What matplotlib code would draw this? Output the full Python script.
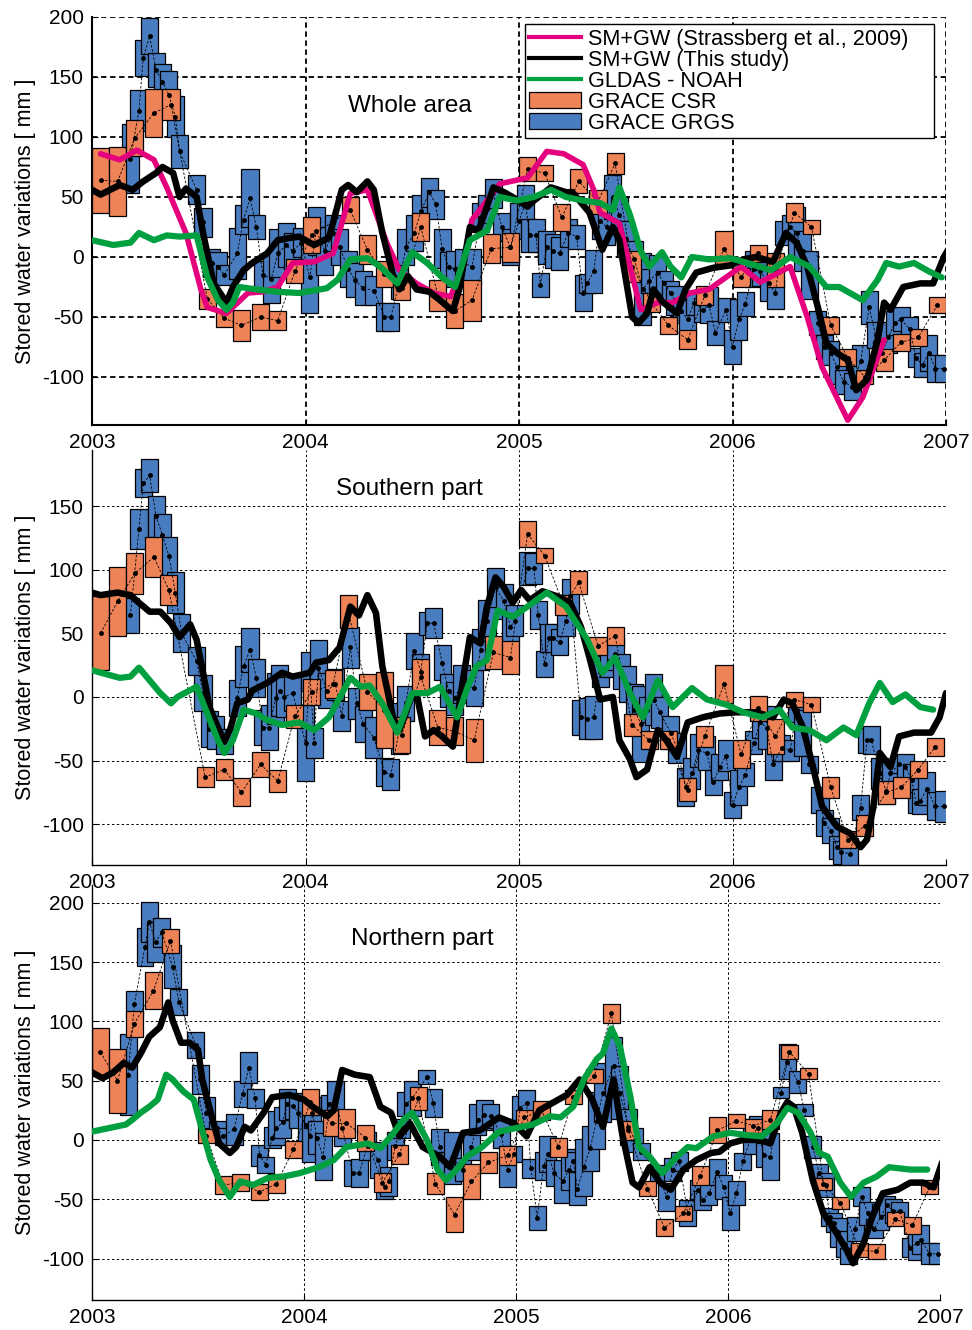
import numpy as np
import matplotlib
matplotlib.use("Agg")
import matplotlib.pyplot as plt
from matplotlib.lines import Line2D
from matplotlib.patches import Patch

plt.rcParams['font.family'] = ['Liberation Sans', 'DejaVu Sans']
plt.rcParams['axes.unicode_minus'] = False

PINK = '#E5007D'
GREEN = '#00A040'
ORANGE = '#EE8358'
BLUE = '#4A7CC0'

# ---------------- Whole area ----------------
top_black_t = [2003.00, 2003.04, 2003.13, 2003.19, 2003.24, 2003.30, 2003.33, 2003.38, 2003.41, 2003.44,
               2003.49, 2003.52, 2003.57, 2003.63, 2003.66, 2003.71, 2003.75, 2003.82, 2003.87, 2003.93,
               2003.97, 2004.04, 2004.11, 2004.17, 2004.20, 2004.24, 2004.29, 2004.32, 2004.36, 2004.41,
               2004.44, 2004.48, 2004.52, 2004.58, 2004.63, 2004.69, 2004.72, 2004.77, 2004.81, 2004.85,
               2004.88, 2004.93, 2004.97, 2005.04, 2005.07, 2005.15, 2005.22, 2005.25, 2005.33, 2005.39,
               2005.44, 2005.47, 2005.53, 2005.56, 2005.60, 2005.63, 2005.67, 2005.74, 2005.78, 2005.83,
               2005.91, 2005.99, 2006.05, 2006.11, 2006.19, 2006.25, 2006.30, 2006.35, 2006.40, 2006.44,
               2006.49, 2006.54, 2006.58, 2006.63, 2006.68, 2006.71, 2006.74, 2006.80, 2006.88, 2006.94,
               2006.99, 2007.01]
top_black_v = [56, 52, 60, 56, 63, 70, 75, 70, 50, 57,
               50, 20, -22, -38, -25, -11, -5, 3, 14, 16,
               17, 10, 16, 56, 60, 54, 63, 56, 20, -15,
               -27, -16, -27, -29, -36, -45, -27, 25, 22, 42,
               58, 54, 50, 42, 47, 58, 54, 54, 37, 6,
               25, 14, -50, -55, -47, -27, -37, -47, -27, -13,
               -9, -7, -2, 0, -4, 20, 12, -8, -42, -72,
               -80, -86, -111, -102, -69, -38, -44, -25, -22, -22,
               0, 6]

top_pink_t = [2003.04, 2003.13, 2003.21, 2003.29, 2003.35, 2003.44, 2003.51, 2003.54, 2003.63, 2003.73,
              2003.80, 2003.87, 2003.94, 2004.04, 2004.13, 2004.21, 2004.29, 2004.38, 2004.44, 2004.52,
              2004.60, 2004.68, 2004.74, 2004.78, 2004.91, 2005.04, 2005.13, 2005.21, 2005.30, 2005.35,
              2005.38, 2005.47, 2005.53, 2005.57, 2005.65, 2005.72, 2005.80, 2005.89, 2006.04, 2006.13,
              2006.27, 2006.35, 2006.42, 2006.54, 2006.61, 2006.71]
top_pink_v = [86, 81, 89, 81, 58, 20, -27, -42, -47, -30,
              -29, -25, -5, -4, 3, 53, 56, 12, -11, -22,
              -30, -33, -5, 31, 61, 66, 88, 86, 77, 56,
              37, 28, -15, -44, -38, -38, -30, -27, -8, -21,
              -8, -50, -92, -136, -117, -69]

top_green_t = [2003.00, 2003.10, 2003.18, 2003.22, 2003.29, 2003.35, 2003.41, 2003.49, 2003.54, 2003.59,
               2003.63, 2003.66, 2003.69, 2003.77, 2003.87, 2003.97, 2004.10, 2004.15, 2004.21, 2004.29,
               2004.35, 2004.43, 2004.50, 2004.57, 2004.64, 2004.70, 2004.77, 2004.85, 2004.91, 2004.99,
               2005.07, 2005.15, 2005.22, 2005.30, 2005.38, 2005.44, 2005.47, 2005.52, 2005.57, 2005.61,
               2005.67, 2005.71, 2005.76, 2005.81, 2005.89, 2005.99, 2006.07, 2006.18, 2006.27, 2006.36,
               2006.44, 2006.50, 2006.55, 2006.61, 2006.68, 2006.72, 2006.78, 2006.85, 2006.92, 2006.98]
top_green_v = [14, 10, 12, 20, 14, 18, 17, 18, -17, -36,
               -44, -38, -25, -27, -29, -30, -26, -19, -2, -1,
               -8, -22, 4, -5, -17, -25, 14, 22, 50, 47,
               50, 56, 50, 47, 45, 39, 58, 35, 5, -8,
               4, -8, -17, 0, -2, -1, -5, -11, 0, -8,
               -25, -25, -30, -36, -19, -5, -8, -5, -12, -17]

top_csr_t = [2003.04, 2003.12, 2003.20, 2003.29, 2003.37, 2003.54, 2003.62, 2003.70, 2003.79, 2003.87,
             2003.95, 2004.03, 2004.21, 2004.29, 2004.37, 2004.45, 2004.54, 2004.62, 2004.70, 2004.78,
             2004.87, 2004.96, 2005.04, 2005.12, 2005.20, 2005.28, 2005.37, 2005.45, 2005.53, 2005.62,
             2005.70, 2005.79, 2005.87, 2005.96, 2006.04, 2006.12, 2006.20, 2006.29, 2006.37, 2006.46,
             2006.54, 2006.62, 2006.71, 2006.79, 2006.87, 2006.96]
top_csr_v = [64, 63, 99, 120, 127, -35, -51, -57, -50, -53,
             -12, 18, 39, 6, -14, -26, 25, -32, -45, -36,
             7, 8, 73, 70, 33, 63, 46, 78, -8, -38,
             -57, -69, -32, 7, -17, 3, -11, 37, 25, -57,
             -84, -100, -86, -71, -67, -40]
top_csr_e = [27, 29, 15, 20, 13, 8, 7, 13, 11, 8,
             10, 15, 11, 12, 11, 10, 12, 13, 14, 17,
             12, 12, 10, 7, 11, 10, 10, 9, 13, 8,
             7, 8, 8, 15, 8, 7, 14, 8, 6, 7,
             7, 6, 9, 7, 7, 7]

top_grgs_t = [2003.18, 2003.22, 2003.24, 2003.27, 2003.30, 2003.33, 2003.36, 2003.39, 2003.41, 2003.49,
              2003.52, 2003.56, 2003.59, 2003.62, 2003.68, 2003.71, 2003.74, 2003.77, 2003.80, 2003.84,
              2003.87, 2003.91, 2003.94, 2003.98, 2004.02, 2004.05, 2004.09, 2004.13, 2004.16, 2004.20,
              2004.23, 2004.27, 2004.32, 2004.37, 2004.40, 2004.44, 2004.47, 2004.51, 2004.54, 2004.58,
              2004.61, 2004.64, 2004.67, 2004.70, 2004.74, 2004.78, 2004.82, 2004.85, 2004.88, 2004.92,
              2004.96, 2005.00, 2005.03, 2005.05, 2005.08, 2005.10, 2005.13, 2005.16, 2005.19, 2005.23,
              2005.27, 2005.30, 2005.32, 2005.35, 2005.38, 2005.41, 2005.44, 2005.47, 2005.50, 2005.54,
              2005.58, 2005.61, 2005.65, 2005.68, 2005.71, 2005.73, 2005.76, 2005.79, 2005.82, 2005.86,
              2005.89, 2005.92, 2005.97, 2006.00, 2006.03, 2006.06, 2006.10, 2006.13, 2006.17, 2006.20,
              2006.24, 2006.27, 2006.30, 2006.33, 2006.36, 2006.40, 2006.43, 2006.46, 2006.49, 2006.52,
              2006.56, 2006.60, 2006.64, 2006.67, 2006.70, 2006.73, 2006.76, 2006.79, 2006.83, 2006.86,
              2006.89, 2006.92, 2006.95, 2006.99]
top_grgs_v = [82, 122, 166, 184, 156, 146, 135, 117, 88, 56,
              29, -5, -8, -15, 3, 31, 49, 25, -15, -18,
              3, 10, 5, 12, -17, 22, 5, 20, 8, -10,
              -19, -26, -28, -50, -50, -20, 8, 20, 38, 54,
              44, 7, -8, -10, -5, -8, 33, 40, 53, 25,
              8, 30, 45, 18, 18, -23, 8, 5, 3, 20,
              17, -30, -22, -12, 30, 25, 50, 35, 15, -2,
              -27, -20, -13, -22, -30, -36, -45, -52, -38, -44,
              -40, -63, -44, -75, -52, -39, -10, -12, -22, -30,
              20, 25, 20, 5, -15, -55, -75, -80, -92, -104,
              -108, -87, -42, -65, -80, -67, -55, -52, -60, -84,
              -90, -80, -93, -93]
top_grgs_e = [29, 17, 15, 15, 14, 15, 20, 17, 14, 12,
              12, 12, 12, 8, 21, 12, 24, 10, 12, 20,
              20, 18, 15, 12, 30, 20, 20, 15, 15, 15,
              14, 14, 12, 12, 12, 15, 15, 15, 14, 12,
              12, 16, 12, 15, 12, 15, 12, 12, 12, 12,
              15, 15, 15, 14, 14, 10, 14, 14, 14, 12,
              10, 15, 8, 18, 15, 15, 18, 15, 15, 15,
              30, 10, 15, 10, 10, 12, 10, 16, 10, 10,
              15, 10, 10, 14, 17, 10, 15, 12, 15, 13,
              10, 10, 22, 17, 20, 10, 10, 10, 14, 10,
              11, 14, 14, 11, 10, 13, 10, 10, 10, 8,
              10, 15, 11, 11]

# ---------------- Southern part ----------------
mid_black_t = [2003.00, 2003.04, 2003.12, 2003.18, 2003.22, 2003.27, 2003.32, 2003.37, 2003.41, 2003.46,
               2003.49, 2003.52, 2003.55, 2003.59, 2003.62, 2003.65, 2003.68, 2003.73, 2003.75, 2003.82,
               2003.89, 2003.94, 2004.02, 2004.05, 2004.11, 2004.16, 2004.21, 2004.25, 2004.29, 2004.33,
               2004.36, 2004.41, 2004.44, 2004.49, 2004.52, 2004.56, 2004.60, 2004.64, 2004.69, 2004.74,
               2004.77, 2004.82, 2004.85, 2004.89, 2004.93, 2004.97, 2005.01, 2005.05, 2005.11, 2005.18,
               2005.24, 2005.29, 2005.33, 2005.38, 2005.44, 2005.47, 2005.52, 2005.55, 2005.60, 2005.65,
               2005.69, 2005.74, 2005.79, 2005.86, 2005.94, 2006.02, 2006.11, 2006.19, 2006.24, 2006.28,
               2006.33, 2006.38, 2006.42, 2006.49, 2006.55, 2006.60, 2006.63, 2006.66, 2006.69, 2006.74,
               2006.78, 2006.85, 2006.93, 2006.97, 2007.00]
mid_black_v = [82, 80, 82, 80, 74, 67, 67, 58, 47, 57,
               45, 19, -8, -24, -35, -24, -5, -2, 5, 11,
               19, 16, 19, 27, 29, 39, 71, 64, 80, 66,
               24, -16, -26, -2, 3, -31, -26, -31, -39, 16,
               47, 42, 71, 94, 86, 74, 84, 76, 83, 79,
               74, 55, 31, -2, 0, -34, -49, -63, -57, -26,
               -34, -47, -20, -16, -13, -12, -12, -16, -2, -5,
               -24, -57, -86, -102, -107, -118, -112, -86, -44, -55,
               -31, -28, -28, -16, 3]

mid_green_t = [2003.00, 2003.13, 2003.18, 2003.22, 2003.27, 2003.32, 2003.37, 2003.40, 2003.49, 2003.54,
               2003.59, 2003.62, 2003.66, 2003.71, 2003.77, 2003.82, 2003.89, 2003.97, 2004.04, 2004.11,
               2004.21, 2004.26, 2004.30, 2004.36, 2004.43, 2004.50, 2004.57, 2004.63, 2004.71, 2004.76,
               2004.80, 2004.85, 2004.90, 2004.97, 2005.04, 2005.13, 2005.22, 2005.32, 2005.39, 2005.45,
               2005.52, 2005.58, 2005.65, 2005.72, 2005.81, 2005.88, 2005.97, 2006.05, 2006.14, 2006.22,
               2006.28, 2006.36, 2006.44, 2006.52, 2006.58, 2006.64, 2006.69, 2006.75, 2006.81, 2006.88,
               2006.94]
mid_green_v = [21, 15, 16, 23, 13, 3, -5, 0, 8, -13,
               -34, -44, -34, -10, -13, -18, -22, -20, -26, -16,
               15, 8, 9, -5, -28, 3, 3, 8, -16, 8,
               24, 29, 68, 63, 71, 82, 71, 45, 19, 31,
               3, -16, 13, -8, 7, -2, -6, -12, -16, -10,
               -24, -26, -34, -24, -30, -5, 11, -4, 2, -8,
               -10]

mid_csr_t = [2003.04, 2003.12, 2003.20, 2003.29, 2003.36, 2003.53, 2003.62, 2003.70, 2003.79, 2003.87,
             2003.95, 2004.03, 2004.13, 2004.20, 2004.29, 2004.37, 2004.45, 2004.54, 2004.62, 2004.70,
             2004.79, 2004.88, 2004.96, 2005.04, 2005.12, 2005.21, 2005.28, 2005.37, 2005.45, 2005.53,
             2005.61, 2005.70, 2005.79, 2005.87, 2005.96, 2006.04, 2006.12, 2006.20, 2006.29, 2006.37,
             2006.46, 2006.54, 2006.62, 2006.72, 2006.79, 2006.87, 2006.95]
mid_csr_v = [50, 75, 97, 110, 84, -63, -57, -75, -53, -66,
             -15, 4, 10, 67, 4, -10, -30, 16, -24, -27,
             -34, 35, 31, 128, 111, 72, 90, 40, 48, -22,
             -34, -34, -73, -31, 10, -45, -9, -31, -2, -6,
             -71, -112, -101, -75, -71, -57, -39]
mid_csr_e = [29, 27, 16, 16, 12, 8, 8, 11, 10, 9,
             9, 10, 11, 13, 14, 30, 14, 14, 14, 11,
             17, 13, 13, 10, 6, 8, 9, 7, 7, 9,
             7, 7, 9, 8, 15, 11, 10, 14, 6, 6,
             8, 7, 8, 9, 8, 7, 7]

mid_grgs_t = [2003.18, 2003.22, 2003.24, 2003.27, 2003.30, 2003.33, 2003.36, 2003.39, 2003.42, 2003.49,
              2003.52, 2003.55, 2003.58, 2003.62, 2003.68, 2003.71, 2003.74, 2003.77, 2003.80, 2003.83,
              2003.86, 2003.88, 2003.90, 2003.94, 2004.00, 2004.02, 2004.04, 2004.06, 2004.10, 2004.14,
              2004.17, 2004.21, 2004.24, 2004.27, 2004.32, 2004.37, 2004.40, 2004.44, 2004.47, 2004.51,
              2004.54, 2004.57, 2004.60, 2004.64, 2004.67, 2004.70, 2004.73, 2004.79, 2004.82, 2004.85,
              2004.89, 2004.93, 2004.96, 2004.98, 2005.04, 2005.07, 2005.09, 2005.12, 2005.14, 2005.16,
              2005.19, 2005.22, 2005.24, 2005.29, 2005.32, 2005.35, 2005.38, 2005.42, 2005.45, 2005.48,
              2005.51, 2005.54, 2005.57, 2005.60, 2005.63, 2005.66, 2005.71, 2005.74, 2005.78, 2005.81,
              2005.84, 2005.88, 2005.91, 2005.94, 2005.97, 2006.00, 2006.03, 2006.06, 2006.10, 2006.13,
              2006.16, 2006.19, 2006.23, 2006.27, 2006.30, 2006.33, 2006.36, 2006.41, 2006.43, 2006.46,
              2006.49, 2006.51, 2006.55, 2006.60, 2006.63, 2006.65, 2006.69, 2006.72, 2006.74, 2006.78,
              2006.81, 2006.84, 2006.86, 2006.88, 2006.91, 2006.95, 2006.99]
mid_grgs_v = [64, 132, 168, 174, 142, 127, 111, 82, 50, 28,
              3, -25, -28, -35, -1, 24, 37, 15, -24, -24,
              -1, 5, 0, 3, -36, 20, -36, 23, 5, 10,
              -15, 39, -5, -21, -32, -59, -61, -25, -5, 36,
              20, 58, 58, 27, 5, -1, 10, 7, 37, 60,
              86, 75, 55, 60, 101, 101, 64, 26, 46, 46,
              43, 60, 79, -16, -17, -16, 20, 28, 34, 20,
              10, -10, -21, -10, -2, -12, -28, -40, -71, -60,
              -42, -44, -67, -55, -46, -85, -71, -61, -36, -20,
              -24, -53, -40, -42, -10, -28, -53, -81, -99, -105,
              -118, -122, -123, -87, -34, -34, -60, -74, -60, -53,
              -55, -65, -83, -82, -72, -86, -86]
mid_grgs_e = [14, 16, 11, 13, 16, 17, 15, 16, 15, 11,
              14, 14, 13, 10, 14, 16, 17, 15, 14, 18,
              20, 20, 16, 14, 30, 15, 12, 22, 14, 12,
              12, 16, 12, 14, 16, 11, 12, 20, 14, 14,
              14, 9, 12, 14, 13, 13, 15, 14, 16, 16,
              15, 14, 12, 12, 13, 12, 11, 10, 11, 11,
              10, 12, 14, 14, 16, 17, 12, 12, 13, 14,
              14, 20, 30, 10, 20, 12, 13, 12, 15, 12,
              13, 13, 10, 10, 12, 10, 14, 9, 9, 12,
              17, 12, 10, 8, 10, 18, 7, 10, 10, 10,
              9, 9, 12, 10, 10, 11, 12, 10, 10, 7,
              10, 12, 8, 10, 13, 11, 12]

# ---------------- Northern part ----------------
bot_black_t = [2003.00, 2003.05, 2003.10, 2003.15, 2003.19, 2003.23, 2003.27, 2003.32, 2003.36, 2003.38,
               2003.42, 2003.46, 2003.50, 2003.52, 2003.56, 2003.60, 2003.65, 2003.68, 2003.72, 2003.75,
               2003.81, 2003.85, 2003.93, 2004.00, 2004.04, 2004.11, 2004.14, 2004.18, 2004.24, 2004.31,
               2004.36, 2004.41, 2004.45, 2004.50, 2004.56, 2004.64, 2004.69, 2004.75, 2004.83, 2004.92,
               2004.99, 2005.05, 2005.11, 2005.17, 2005.24, 2005.30, 2005.36, 2005.41, 2005.46, 2005.50,
               2005.55, 2005.58, 2005.63, 2005.68, 2005.73, 2005.79, 2005.85, 2005.92, 2005.96, 2006.01,
               2006.07, 2006.15, 2006.20, 2006.25, 2006.28, 2006.31, 2006.35, 2006.40, 2006.45, 2006.51,
               2006.56, 2006.59, 2006.64, 2006.68, 2006.73, 2006.80, 2006.86, 2006.92, 2006.97, 2007.01]
bot_black_v = [57, 52, 57, 65, 61, 73, 87, 95, 116, 101,
               82, 82, 76, 51, 23, -3, -11, -6, 11, 8,
               23, 36, 38, 34, 28, 20, 25, 59, 55, 53,
               28, 23, 3, 14, -6, -14, -23, 6, 8, 19,
               14, 3, 25, 31, 38, 51, 34, 11, 51, 6,
               -36, -40, -23, -36, -42, -25, -17, -11, -10, -3,
               0, 0, -3, 23, 32, 28, 6, -34, -62, -78,
               -93, -104, -87, -65, -45, -42, -36, -36, -40, -19]

bot_green_t = [2003.00, 2003.16, 2003.19, 2003.23, 2003.27, 2003.31, 2003.35, 2003.38, 2003.43, 2003.48,
               2003.52, 2003.56, 2003.60, 2003.65, 2003.70, 2003.76, 2003.83, 2003.90, 2003.98, 2004.07,
               2004.14, 2004.20, 2004.30, 2004.36, 2004.41, 2004.47, 2004.51, 2004.58, 2004.63, 2004.67,
               2004.72, 2004.77, 2004.84, 2004.92, 2005.00, 2005.08, 2005.16, 2005.21, 2005.27, 2005.32,
               2005.38, 2005.41, 2005.45, 2005.49, 2005.54, 2005.58, 2005.63, 2005.69, 2005.76, 2005.81,
               2005.85, 2005.93, 2006.01, 2006.09, 2006.16, 2006.23, 2006.28, 2006.33, 2006.39, 2006.43,
               2006.47, 2006.53, 2006.58, 2006.64, 2006.70, 2006.76, 2006.86, 2006.94]
bot_green_v = [7, 13, 17, 23, 28, 34, 55, 51, 41, 34,
               8, -17, -34, -48, -35, -38, -32, -31, -28, -23,
               -17, -6, -3, -7, 3, 17, 23, 0, -25, -34,
               -25, -14, -6, 7, 10, 13, 20, 19, 28, 51,
               68, 73, 94, 79, 36, -6, -14, -28, -14, -6,
               -7, 3, 6, 4, 3, 14, 27, 23, 6, -11,
               -14, -36, -48, -36, -31, -23, -25, -25]

bot_csr_t = [2003.04, 2003.12, 2003.20, 2003.29, 2003.37, 2003.54, 2003.62, 2003.70, 2003.79, 2003.87,
             2003.95, 2004.03, 2004.13, 2004.20, 2004.29, 2004.37, 2004.45, 2004.54, 2004.62, 2004.71,
             2004.79, 2004.87, 2004.96, 2005.04, 2005.12, 2005.20, 2005.27, 2005.37, 2005.45, 2005.53,
             2005.62, 2005.70, 2005.79, 2005.87, 2005.95, 2006.04, 2006.12, 2006.20, 2006.29, 2006.38,
             2006.45, 2006.53, 2006.62, 2006.70, 2006.79, 2006.87, 2006.95]
bot_csr_v = [74, 50, 98, 126, 168, 3, -38, -36, -44, -37,
             -8, 32, 14, 14, 2, -36, -12, 35, -37, -63,
             -35, -19, -13, 19, 25, -6, 36, 54, 107, 8,
             -41, -74, -62, -30, 8, 16, 12, 17, 74, 56,
             -37, -53, -93, -94, -67, -72, -40]
bot_csr_e = [20, 27, 11, 16, 10, 6, 8, 7, 7, 8,
             7, 11, 11, 12, 11, 8, 8, 10, 9, 15,
             15, 9, 8, 6, 8, 8, 6, 6, 8, 8,
             6, 7, 6, 8, 11, 6, 6, 8, 6, 5,
             5, 5, 6, 6, 6, 7, 6]

bot_grgs_t = [2003.17, 2003.20, 2003.25, 2003.27, 2003.30, 2003.33, 2003.38, 2003.41, 2003.49, 2003.51,
              2003.54, 2003.59, 2003.62, 2003.67, 2003.71, 2003.74, 2003.77, 2003.79, 2003.82, 2003.85,
              2003.87, 2003.90, 2003.92, 2003.95, 2003.97, 2004.01, 2004.03, 2004.04, 2004.06, 2004.09,
              2004.12, 2004.15, 2004.18, 2004.23, 2004.26, 2004.30, 2004.35, 2004.38, 2004.40, 2004.43,
              2004.46, 2004.48, 2004.51, 2004.58, 2004.61, 2004.64, 2004.67, 2004.70, 2004.75, 2004.79,
              2004.82, 2004.85, 2004.88, 2004.93, 2004.96, 2004.99, 2005.02, 2005.05, 2005.07, 2005.10,
              2005.13, 2005.15, 2005.18, 2005.22, 2005.25, 2005.27, 2005.29, 2005.32, 2005.35, 2005.38,
              2005.41, 2005.46, 2005.49, 2005.53, 2005.56, 2005.59, 2005.67, 2005.71, 2005.74, 2005.77,
              2005.81, 2005.86, 2005.88, 2005.91, 2005.95, 2005.98, 2006.01, 2006.04, 2006.07, 2006.11,
              2006.14, 2006.17, 2006.20, 2006.25, 2006.28, 2006.33, 2006.36, 2006.40, 2006.43, 2006.46,
              2006.48, 2006.50, 2006.52, 2006.55, 2006.57, 2006.60, 2006.63, 2006.66, 2006.69, 2006.72,
              2006.75, 2006.78, 2006.81, 2006.86, 2006.89, 2006.91, 2006.95, 2006.99]
bot_grgs_v = [55, 115, 163, 184, 167, 175, 146, 116, 80, 51,
              23, 10, 3, 9, 39, 61, 35, -13, -21, 2,
              10, 15, 30, 29, 23, 13, 3, 23, 2, -14,
              30, 35, 10, -28, -28, -5, -17, -40, -35, -5,
              10, 30, 35, 53, 31, -6, -21, -15, -25, -6,
              17, 21, 20, 5, -25, -12, 27, 31, -24, -66,
              -22, -12, -28, -35, -25, -18, -41, -23, -7, 16,
              40, 62, 40, 11, 0, -10, -28, -48, -25, -18,
              -62, -42, -51, -45, -27, -40, -62, -45, -18, 3,
              10, -13, -14, 40, 66, 49, 25, -6, -28, -38,
              -65, -70, -78, -88, -98, -75, -48, -62, -75, -65,
              -55, -60, -60, -91, -87, -84, -96, -96]
bot_grgs_e = [34, 11, 16, 17, 17, 12, 18, 11, 11, 12,
              13, 6, 7, 13, 11, 13, 8, 9, 7, 9,
              14, 13, 13, 11, 13, 21, 22, 13, 14, 20,
              8, 15, 15, 11, 12, 12, 15, 10, 12, 12,
              8, 10, 15, 6, 12, 15, 11, 22, 10, 11,
              13, 13, 10, 12, 15, 7, 10, 11, 8, 10,
              12, 15, 11, 18, 17, 8, 14, 24, 19, 24,
              25, 25, 22, 15, 10, 7, 7, 12, 10, 8,
              11, 8, 8, 10, 11, 10, 14, 10, 7, 15,
              10, 10, 20, 5, 15, 9, 5, 9, 8, 10,
              8, 8, 12, 11, 7, 10, 8, 10, 8, 11,
              8, 10, 8, 8, 14, 12, 9, 9]

titles = ['Whole area', 'Southern part', 'Northern part']
year_ticks = [2003, 2004, 2005, 2006, 2007]
legend_labels = ['SM+GW (Strassberg et al., 2009)', 'SM+GW (This study)', 'GLDAS - NOAH',
                 'GRACE CSR', 'GRACE GRGS']

fig = plt.figure(figsize=(9.72, 13.3), dpi=100)
W, H = 972.0, 1330.0


def make_ax(l, r, t, b):
    return fig.add_axes([l / W, 1 - b / H, (r - l) / W, (b - t) / H])


ax3 = make_ax(92, 940, 885, 1300)
ax2 = make_ax(92, 946, 450, 865)
ax1 = make_ax(92, 946, 17, 425)
ax3.set_zorder(1)
ax2.set_zorder(2)
ax1.set_zorder(3)


def boxes(ax, t, v, e, color):
    t = np.array(t)
    v = np.array(v, float)
    e = np.array(e, float)
    ax.bar(t, 2 * e, bottom=v - e, width=0.08, color=color, edgecolor='black',
           linewidth=0.9, zorder=2)


def draw_panel(ax, black, green, csr, grgs, pink=None, heavy_grid=False):
    # GRACE boxes with their connecting dashed lines
    boxes(ax, *grgs, BLUE)
    boxes(ax, *csr, ORANGE)
    ax.plot(grgs[0], grgs[1], color='black', ls=(0, (3, 2)), lw=0.6, marker='.',
            ms=5, zorder=3)
    ax.plot(csr[0], csr[1], color='black', ls=(0, (3, 2)), lw=0.6, marker='.',
            ms=5, zorder=3)
    if pink is not None:
        ax.plot(pink[0], pink[1], color=PINK, lw=4, solid_joinstyle='round',
                solid_capstyle='round', zorder=4)
    ax.plot(black[0], black[1], color='black', lw=4.7, solid_joinstyle='round',
            solid_capstyle='round', zorder=5)
    ax.plot(green[0], green[1], color=GREEN, lw=4.5, solid_joinstyle='round',
            solid_capstyle='round', zorder=6)

    ax.set_xlim(2003, 2007)
    ax.set_xticks(year_ticks)
    ax.set_xticklabels([str(y) for y in year_ticks])
    if heavy_grid:
        ax.grid(True, color='black', ls=(0, (3, 2)), lw=1.3)
    else:
        ax.grid(True, color='black', ls=(0, (2.5, 2.5)), lw=0.7)
    ax.set_axisbelow(True)
    for s in ['top', 'right']:
        ax.spines[s].set_visible(False)
    for s in ['left', 'bottom']:
        ax.spines[s].set_linewidth(1.5 if heavy_grid else 1.0)
    ax.tick_params(direction='in', labelsize=15, length=4, pad=6)
    ax.set_ylabel('Stored water variations [ mm ]', fontsize=15.5, labelpad=4)


draw_panel(ax1, (top_black_t, top_black_v), (top_green_t, top_green_v),
           (top_csr_t, top_csr_v, top_csr_e), (top_grgs_t, top_grgs_v, top_grgs_e),
           pink=(top_pink_t, top_pink_v), heavy_grid=True)
ax1.set_ylim(-140, 200)
ax1.set_yticks([-100, -50, 0, 50, 100, 150, 200])

draw_panel(ax2, (mid_black_t, mid_black_v), (mid_green_t, mid_green_v),
           (mid_csr_t, mid_csr_v, mid_csr_e), (mid_grgs_t, mid_grgs_v, mid_grgs_e))
ax2.set_ylim(-132, 194)
ax2.set_yticks([-100, -50, 0, 50, 100, 150])

draw_panel(ax3, (bot_black_t, bot_black_v), (bot_green_t, bot_green_v),
           (bot_csr_t, bot_csr_v, bot_csr_e), (bot_grgs_t, bot_grgs_v, bot_grgs_e))
ax3.set_ylim(-135, 215)
ax3.set_yticks([-100, -50, 0, 50, 100, 150, 200])

ax1.text(0.372, 0.782, titles[0], transform=ax1.transAxes, ha='center', va='center', fontsize=17.5)
ax2.text(0.372, 0.906, titles[1], transform=ax2.transAxes, ha='center', va='center', fontsize=17.5)
ax3.text(0.389, 0.870, titles[2], transform=ax3.transAxes, ha='center', va='center', fontsize=17.5)

handles = [Line2D([], [], color=PINK, lw=3),
           Line2D([], [], color='black', lw=3),
           Line2D([], [], color=GREEN, lw=3),
           Patch(facecolor=ORANGE, edgecolor='black', lw=0.9),
           Patch(facecolor=BLUE, edgecolor='black', lw=0.9)]
leg = ax1.legend(handles, legend_labels, loc='upper left',
                 bbox_to_anchor=(0.507, 0.699, 0.479, 0.283), mode='expand',
                 fontsize=15.6, frameon=True, fancybox=False, framealpha=1,
                 edgecolor='black', borderaxespad=0, borderpad=0.2,
                 labelspacing=0.0, handlelength=2.4, handletextpad=0.3,
                 handleheight=0.8)
leg.get_frame().set_linewidth(1.0)
leg.set_zorder(10)

fig.savefig('out.png', dpi=100)
